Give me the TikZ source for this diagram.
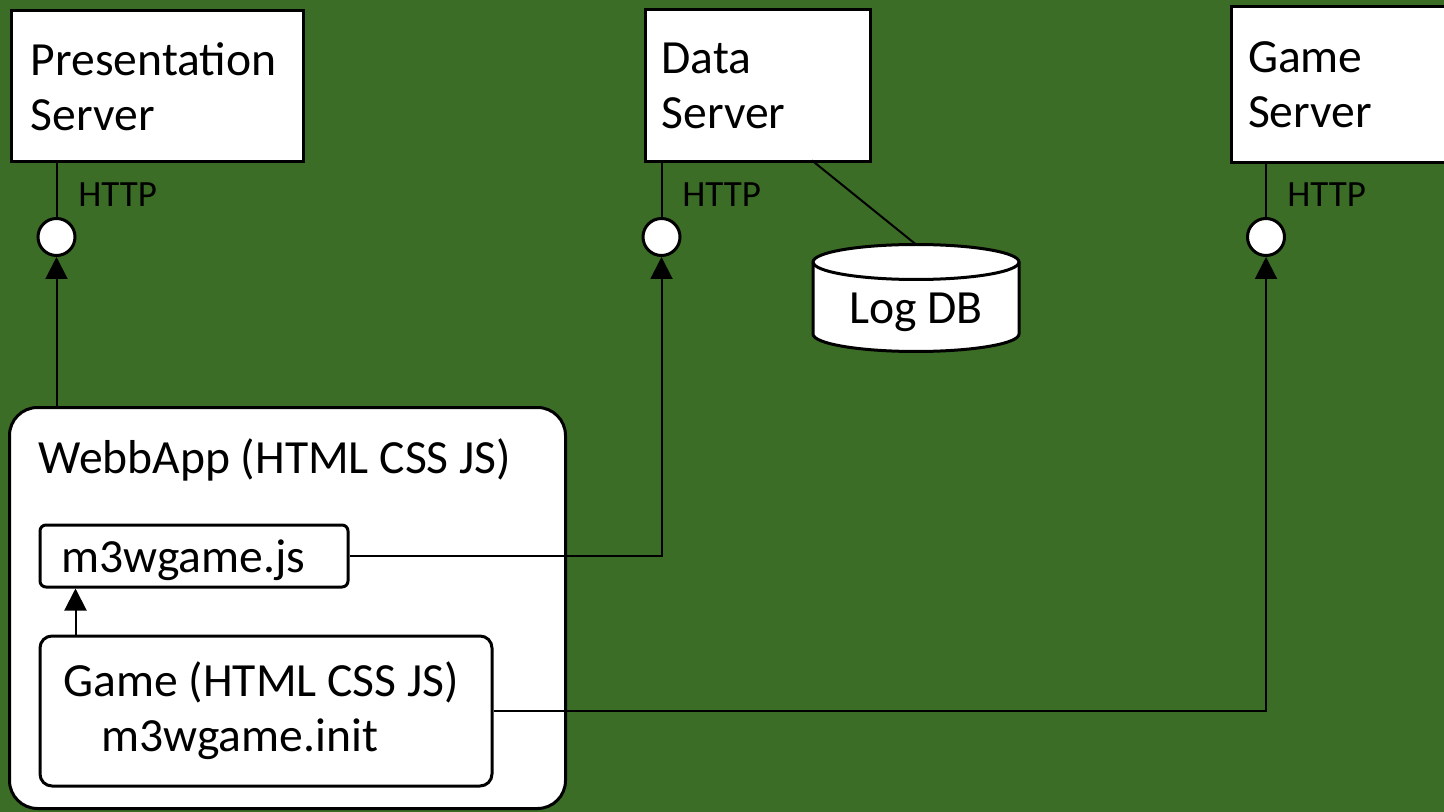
\documentclass[tikz,border=0pt]{standalone}
\usepackage{fontspec}
\setmainfont{Carlito}
\usetikzlibrary{arrows.meta}
\definecolor{bg}{RGB}{59,109,39}
\begin{document}
\begin{tikzpicture}[x=0.5pt,y=-0.5pt,
  box/.style={draw=black, line width=1.5pt, fill=white, anchor=north west, align=flush left,
    inner xsep=10pt, inner ysep=0pt, font=\fontsize{23.8}{27.5}\selectfont},
  lolli/.style={circle, draw=black, line width=1.5pt, fill=white, inner sep=0pt, minimum size=18.5pt},
  conn/.style={draw=black, line width=1pt},
  arr/.style={conn, -{Triangle[width=11pt,length=11pt]}},
  proto/.style={font=\fontsize{18.5}{22}\selectfont, anchor=west, inner sep=0pt},
  lbl/.style={font=\fontsize{23.8}{27.5}\selectfont, inner sep=0pt}]
\useasboundingbox (0,0) rectangle (1444,812);
\fill[bg] (0,0) rectangle (1444,812);

% servers
\node[box, minimum width=146pt, minimum height=75.5pt, text width=126pt] (pres) at (9.5,9.5) {Presentation\\Server};
\node[box, minimum width=112.5pt, minimum height=76pt, text width=96pt, inner xsep=8.25pt] (data) at (643.5,8.5) {Data\\Server};
\node[box, minimum width=150pt, minimum height=78pt, text width=133pt, inner xsep=8.5pt] (game) at (1229.5,5) {Game\\Server};

% interfaces
\node[lolli] (pc) at (56.5,237) {};
\node[lolli] (dc) at (661.5,237) {};
\node[lolli] (gc) at (1266,237) {};
\node[proto] (ph) at (78,195) {HTTP};
\node[proto] (dh) at (682,195) {HTTP};
\node[proto] (gh) at (1287,195) {HTTP};
\draw[conn] (pres.south -| pc.center) -- (pc.north);
\draw[conn] (data.south -| dc.center) -- (dc.north);
\draw[conn] (game.south -| gc.center) -- (gc.north);

% log db
\coordinate (dlink) at (812,160.5);
\coordinate (dbtop) at (916,244.5);
\draw[line width=1.5pt, fill=white] (813,262) -- (813,334)
  arc[start angle=180, end angle=0, x radius=103, y radius=17.5] -- (1019,262)
  arc[start angle=0, end angle=-180, x radius=103, y radius=17.5] -- cycle;
\draw[line width=1.5pt] (813,262) arc[start angle=180, end angle=0, x radius=103, y radius=17.5];
\node[lbl, anchor=base] (db) at (916,324) {Log DB};
\draw[conn] (dlink) -- (dbtop);

% web app
\draw[line width=1.5pt, fill=white, rounded corners=14pt] (9.5,407.5) rectangle (565.5,808.5);
\coordinate (web) at (287.5,407.5);
\node[lbl, anchor=base west] (webl) at (38,473) {WebbApp (HTML CSS JS)};
\node[box, rounded corners=3pt, minimum width=154pt, minimum height=31pt, text width=132.5pt,
  inner xsep=10.75pt, text height=17pt, text depth=1pt] (js) at (38.5,523.5) {m3wgame.js};
\node[box, rounded corners=6pt, minimum width=226pt, minimum height=75pt, text width=202.5pt,
  inner xsep=11.75pt] (gm) at (38.5,634.5) {Game (HTML CSS JS)\\\hspace*{19pt}m3wgame.init};

% connectors
\coordinate (ax) at (75.5,600);
\draw[arr] (web -| pc.center) -- (pc.south);
\draw[arr] (js.east) -| (dc.south);
\draw[arr] (gm.east) -| (gc.south);
\draw[arr] (gm.north -| ax) -- (js.south -| ax);
\end{tikzpicture}
\end{document}
